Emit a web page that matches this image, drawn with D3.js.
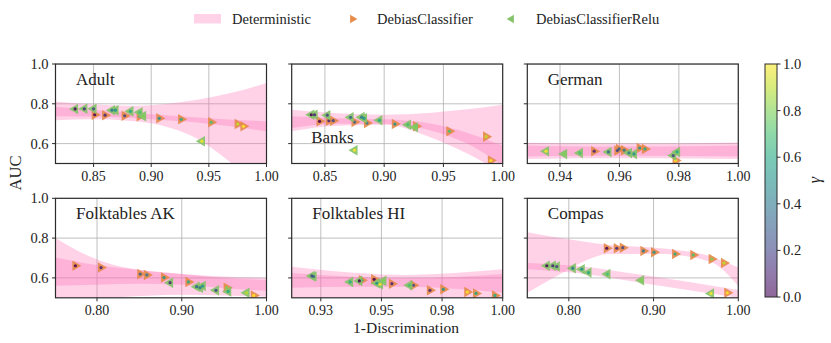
<!DOCTYPE html>
<html>
<head>
<meta charset="utf-8">
<script src="https://cdn.jsdelivr.net/npm/d3@7"></script>
<style>
body{margin:0;background:#fff;}
svg{display:block;}
text{font-family:"Liberation Serif",serif;fill:#222;}
</style>
</head>
<body>
<div id="chart"></div>
<script>
// panel names and axes
var panelTitles = ["Adult","Banks","German","Folktables AK","Folktables HI","Compas"];
var xDomains = [[0.817,1.0],[0.822,1.0],[0.929,1.0],[0.751,1.0],[0.913,1.0],[0.751,1.0]];
var xTicks = [[0.85,0.90,0.95,1.0],[0.85,0.90,0.95,1.0],[0.94,0.96,0.98,1.0],[0.80,0.90,1.0],[0.925,0.95,0.975,1.0],[0.80,0.90,1.0]];
var xTickLabels = [["0.85","0.90","0.95","1.00"],["0.85","0.90","0.95","1.00"],["0.94","0.96","0.98","1.00"],["0.80","0.90","1.00"],["0.93","0.95","0.98","1.00"],["0.80","0.90","1.00"]];
var yTicks = [0.6,0.8,1.0];
var yTickLabels = ["0.6","0.8","1.0"];
var cbTicks = [0,0.2,0.4,0.6,0.8,1.0];
var cbTickLabels = ["0.0","0.2","0.4","0.6","0.8","1.0"];
var legendLabels = ["Deterministic","DebiasClassifier","DebiasClassifierRelu"];

// [1-discrimination, AUC, gamma]
var adultClf = [[0.851,0.745,0.0],[0.860,0.743,0.1],[0.877,0.740,0.2],[0.890,0.737,0.3],[0.907,0.727,0.5],[0.926,0.722,0.6],[0.952,0.707,0.7],[0.975,0.698,0.9],[0.980,0.687,1.0]];
var adultRelu = [[0.834,0.774,0.0],[0.842,0.775,0.1],[0.850,0.775,0.2],[0.866,0.768,0.4],[0.869,0.768,0.5],[0.882,0.762,0.6],[0.890,0.757,0.7],[0.893,0.738,0.8],[0.944,0.612,1.0]];
var banksClf = [[0.8455,0.712,0.0],[0.8534,0.715,0.1],[0.857,0.715,0.2],[0.875,0.708,0.3],[0.8855,0.703,0.4],[0.909,0.698,0.5],[0.927,0.687,0.6],[0.955,0.662,0.7],[0.986,0.635,0.9],[0.990,0.515,1.0]];
var banksRelu = [[0.8385,0.745,0.0],[0.8413,0.745,0.1],[0.852,0.743,0.2],[0.8717,0.732,0.3],[0.881,0.733,0.4],[0.883,0.727,0.5],[0.896,0.717,0.6],[0.920,0.695,0.7],[0.926,0.682,0.8],[0.875,0.567,1.0]];
var germanClf = [[0.9515,0.562,0.1],[0.9593,0.565,0.2],[0.9599,0.573,0.3],[0.9616,0.567,0.4],[0.9668,0.578,0.5],[0.9686,0.573,0.6],[0.9789,0.515,1.0]];
var germanRelu = [[0.9353,0.562,1.0],[0.9414,0.548,0.8],[0.9467,0.553,0.7],[0.9563,0.558,0.3],[0.9632,0.553,0.4],[0.9649,0.548,0.5],[0.9781,0.540,0.2],[0.9794,0.558,0.6]];
var akClf = [[0.7745,0.661,0.0],[0.8047,0.652,0.1],[0.851,0.619,0.3],[0.8588,0.615,0.4],[0.879,0.6015,0.5],[0.9078,0.580,0.6],[0.953,0.551,0.8],[0.985,0.512,1.0]];
var akRelu = [[0.8862,0.576,0.1],[0.9176,0.556,0.3],[0.9215,0.551,0.4],[0.9247,0.559,0.5],[0.9404,0.5375,0.2],[0.9548,0.532,0.6],[0.9765,0.525,0.9]];
var hiClf = [[0.9419,0.588,0.6],[0.947,0.593,0.0],[0.9543,0.571,0.1],[0.9632,0.563,0.2],[0.970,0.5375,0.1],[0.9755,0.543,0.5],[0.9854,0.529,1.0],[0.989,0.522,0.6],[0.9968,0.512,0.6]];
var hiRelu = [[0.9213,0.610,0.2],[0.9220,0.607,0.3],[0.9371,0.580,0.6],[0.9409,0.585,0.0],[0.9481,0.573,0.5],[0.9494,0.568,1.0],[0.9508,0.585,0.8],[0.9615,0.563,0.7]];
var compasClf = [[0.8448,0.749,0.0],[0.8566,0.749,0.1],[0.8637,0.752,0.2],[0.888,0.7355,0.4],[0.9006,0.729,0.5],[0.9254,0.720,0.6],[0.9469,0.715,0.7],[0.9686,0.695,0.8],[0.9831,0.675,0.9],[0.987,0.525,1.0]];
var compasRelu = [[0.774,0.661,0.0],[0.7811,0.661,0.1],[0.7858,0.657,0.2],[0.8047,0.649,0.4],[0.8153,0.644,0.5],[0.8232,0.627,0.6],[0.8455,0.619,0.7],[0.8853,0.588,0.8],[0.9678,0.522,1.0]];

// deterministic bands [x, low, high]
var adultOuter = [[0.817,0.717,0.812],[0.85,0.722,0.796],[0.88,0.715,0.790],[0.91,0.690,0.798],[0.94,0.625,0.820],[0.97,0.50,0.855],[1.0,0.35,0.905]];
var adultInner = [[0.817,0.738,0.785],[0.86,0.735,0.765],[0.90,0.722,0.748],[0.95,0.700,0.728],[1.0,0.662,0.712]];
var banksOuter = [[0.822,0.662,0.770],[0.86,0.690,0.752],[0.90,0.695,0.745],[0.94,0.630,0.755],[0.97,0.550,0.772],[1.0,0.450,0.795]];
var banksInner = [[0.822,0.678,0.737],[0.86,0.700,0.728],[0.90,0.700,0.722],[0.94,0.665,0.700],[0.97,0.600,0.655],[1.0,0.490,0.590]];
var germanOuter = [[0.929,0.522,0.604],[0.95,0.527,0.600],[0.97,0.527,0.600],[1.0,0.522,0.606]];
var germanInner = [[0.929,0.535,0.590],[0.95,0.539,0.585],[0.97,0.539,0.585],[1.0,0.535,0.590]];
var akOuter = [[0.751,0.45,0.80],[0.78,0.47,0.73],[0.82,0.50,0.665],[0.86,0.51,0.635],[0.90,0.515,0.620],[0.95,0.512,0.607],[1.0,0.505,0.600]];
var akInner = [[0.751,0.560,0.703],[0.80,0.565,0.665],[0.85,0.570,0.640],[0.90,0.565,0.620],[0.95,0.548,0.600],[1.0,0.535,0.590]];
var hiOuter = [[0.913,0.48,0.656],[0.94,0.49,0.625],[0.96,0.49,0.615],[0.98,0.49,0.625],[1.0,0.48,0.644]];
var hiInner = [[0.913,0.551,0.624],[0.94,0.555,0.605],[0.96,0.555,0.600],[0.98,0.545,0.605],[1.0,0.525,0.620]];
var compasArc = [[0.751,0.525,0.830],[0.79,0.619,0.800],[0.829,0.703,0.775],[0.845,0.720,0.766],[0.868,0.720,0.760],[0.908,0.720,0.749],[0.967,0.681,0.708],[1.0,0.559,0.652]];
var compasLine = [[0.751,0.644,0.675],[0.81,0.624,0.660],[0.888,0.573,0.614],[1.0,0.500,0.539]];

var panelClf = [adultClf,banksClf,germanClf,akClf,hiClf,compasClf];
var panelRelu = [adultRelu,banksRelu,germanRelu,akRelu,hiRelu,compasRelu];
var panelBands = [[adultOuter,adultInner],[banksOuter,banksInner],[germanOuter,germanInner],[akOuter,akInner],[hiOuter,hiInner],[compasArc,compasLine]];

var W = 831, H = 343;
var clfColor = "#e58b4b", reluColor = "#86c26a", bandColor = "#ff69b4", frameColor = "#2b2b2b";
var colLeft = [55.5, 291.7, 527.3], pw = 211;
var rowTop = [64, 198.3], ph = 99.5;
var titleBottom = [false,true,false,false,false,false];

var svg = d3.select("#chart").append("svg").attr("width",W).attr("height",H);
var defs = svg.append("defs");

var markSym = d3.symbol().type(d3.symbolTriangle).size(48);

panelTitles.forEach(function(name, i){
	var col = i % 3, row = Math.floor(i/3);
	var x = d3.scaleLinear().domain(xDomains[i]).range([0,pw]);
	var y = d3.scaleLinear().domain([0.5,1.0]).range([ph,0]);
	var g = svg.append("g").attr("transform","translate("+colLeft[col]+","+rowTop[row]+")");

	defs.append("clipPath").attr("id","clip"+i).append("rect").attr("width",pw).attr("height",ph);
	var inner = g.append("g").attr("clip-path","url(#clip"+i+")");

	// grid
	inner.selectAll(".gx").data(xTicks[i]).enter().append("line")
		.attr("x1",function(d){return x(d);}).attr("x2",function(d){return x(d);})
		.attr("y1",0).attr("y2",ph).attr("stroke","#b0b0b0").attr("stroke-width",0.8);
	inner.selectAll(".gy").data(yTicks).enter().append("line")
		.attr("x1",0).attr("x2",pw)
		.attr("y1",function(d){return y(d);}).attr("y2",function(d){return y(d);})
		.attr("stroke","#b0b0b0").attr("stroke-width",0.8);

	// bands
	var area = d3.area().curve(d3.curveMonotoneX)
		.x(function(d){return x(d[0]);})
		.y0(function(d){return y(d[1]);})
		.y1(function(d){return y(d[2]);});
	panelBands[i].forEach(function(b){
		inner.append("path").attr("d",area(b)).attr("fill",bandColor).attr("fill-opacity",0.3);
	});

	// markers
	function drawSeries(data, color, rot){
		inner.selectAll(null).data(data).enter().append("path")
			.attr("d",markSym)
			.attr("transform",function(d){return "translate("+x(d[0])+","+y(d[1])+") rotate("+rot+")";})
			.attr("fill",color).attr("fill-opacity",0.92);
		inner.selectAll(null).data(data).enter().append("circle")
			.attr("cx",function(d){return x(d[0]);}).attr("cy",function(d){return y(d[1]);})
			.attr("r",1.6)
			.attr("fill",function(d){return d3.interpolateViridis(d[2]);}).attr("fill-opacity",0.85);
	}
	drawSeries(panelClf[i], clfColor, 90);
	drawSeries(panelRelu[i], reluColor, -90);

	// frame
	g.append("rect").attr("width",pw).attr("height",ph).attr("fill","none")
		.attr("stroke",frameColor).attr("stroke-width",1.2);

	// x ticks
	g.selectAll(".tx").data(xTicks[i]).enter().append("line")
		.attr("x1",function(d){return x(d);}).attr("x2",function(d){return x(d);})
		.attr("y1",ph).attr("y2",ph+3.5).attr("stroke",frameColor).attr("stroke-width",1);
	g.selectAll(".lx").data(xTicks[i]).enter().append("text")
		.attr("x",function(d){return x(d);}).attr("y",ph+17.5)
		.attr("text-anchor","middle").attr("font-size",14)
		.text(function(d,k){return xTickLabels[i][k];});

	// y ticks
	g.selectAll(".ty").data(yTicks).enter().append("line")
		.attr("x1",-3.5).attr("x2",0)
		.attr("y1",function(d){return y(d);}).attr("y2",function(d){return y(d);})
		.attr("stroke",frameColor).attr("stroke-width",1);
	if(col==0){
		g.selectAll(".ly").data(yTicks).enter().append("text")
			.attr("x",-7).attr("y",function(d){return y(d)+5;})
			.attr("text-anchor","end").attr("font-size",14.5)
			.text(function(d,k){return yTickLabels[k];});
	}

	// title
	g.append("text").attr("x",titleBottom[i]?19.5:20.5).attr("y",titleBottom[i]?79:21)
		.attr("font-size",17).text(name);
});

// axis labels
svg.append("text").attr("x",406).attr("y",333).attr("text-anchor","middle")
	.attr("font-size",15.5).text("1-Discrimination");
svg.append("text").attr("transform","translate(21,173) rotate(-90)").attr("text-anchor","middle")
	.attr("font-size",16.5).text("AUC");

// colorbar
var cbX = 765, cbW = 12, cbTop = 64, cbBot = 297;
var cy = d3.scaleLinear().domain([0,1]).range([cbBot,cbTop]);
var grad = defs.append("linearGradient").attr("id","vir").attr("x1",0).attr("y1",1).attr("x2",0).attr("y2",0);
d3.range(0,1.0001,0.1).forEach(function(t){
	grad.append("stop").attr("offset",t).attr("stop-color",d3.interpolateViridis(t));
});
svg.append("rect").attr("x",cbX).attr("y",cbTop).attr("width",cbW).attr("height",cbBot-cbTop)
	.attr("fill","url(#vir)").attr("fill-opacity",0.6);
svg.append("rect").attr("x",cbX).attr("y",cbTop).attr("width",cbW).attr("height",cbBot-cbTop)
	.attr("fill","none").attr("stroke",frameColor).attr("stroke-width",1);
svg.selectAll(".cbt").data(cbTicks).enter().append("line")
	.attr("x1",cbX+cbW).attr("x2",cbX+cbW+3.5)
	.attr("y1",function(d){return cy(d);}).attr("y2",function(d){return cy(d);})
	.attr("stroke",frameColor);
svg.selectAll(".cbl").data(cbTicks).enter().append("text")
	.attr("x",cbX+cbW+6).attr("y",function(d){return cy(d)+5;})
	.attr("font-size",14.5).text(function(d,k){return cbTickLabels[k];});
svg.append("text").attr("transform","translate(820,180) rotate(-90)").attr("text-anchor","middle")
	.attr("font-size",16).attr("font-style","italic").text("γ");

// legend
var lg = svg.append("g");
lg.append("rect").attr("x",194).attr("y",14).attr("width",27).attr("height",9.5)
	.attr("fill",bandColor).attr("fill-opacity",0.3);
lg.append("path").attr("d",d3.symbol().type(d3.symbolTriangle).size(30))
	.attr("transform","translate(352.5,19) rotate(90)").attr("fill",clfColor);
lg.append("path").attr("d",d3.symbol().type(d3.symbolTriangle).size(30))
	.attr("transform","translate(511.5,19) rotate(-90)").attr("fill",reluColor);
var lx = [232, 377, 536];
legendLabels.forEach(function(t,k){
	lg.append("text").attr("x",lx[k]).attr("y",24).attr("font-size",14.5).text(t);
});
</script>
</body>
</html>
